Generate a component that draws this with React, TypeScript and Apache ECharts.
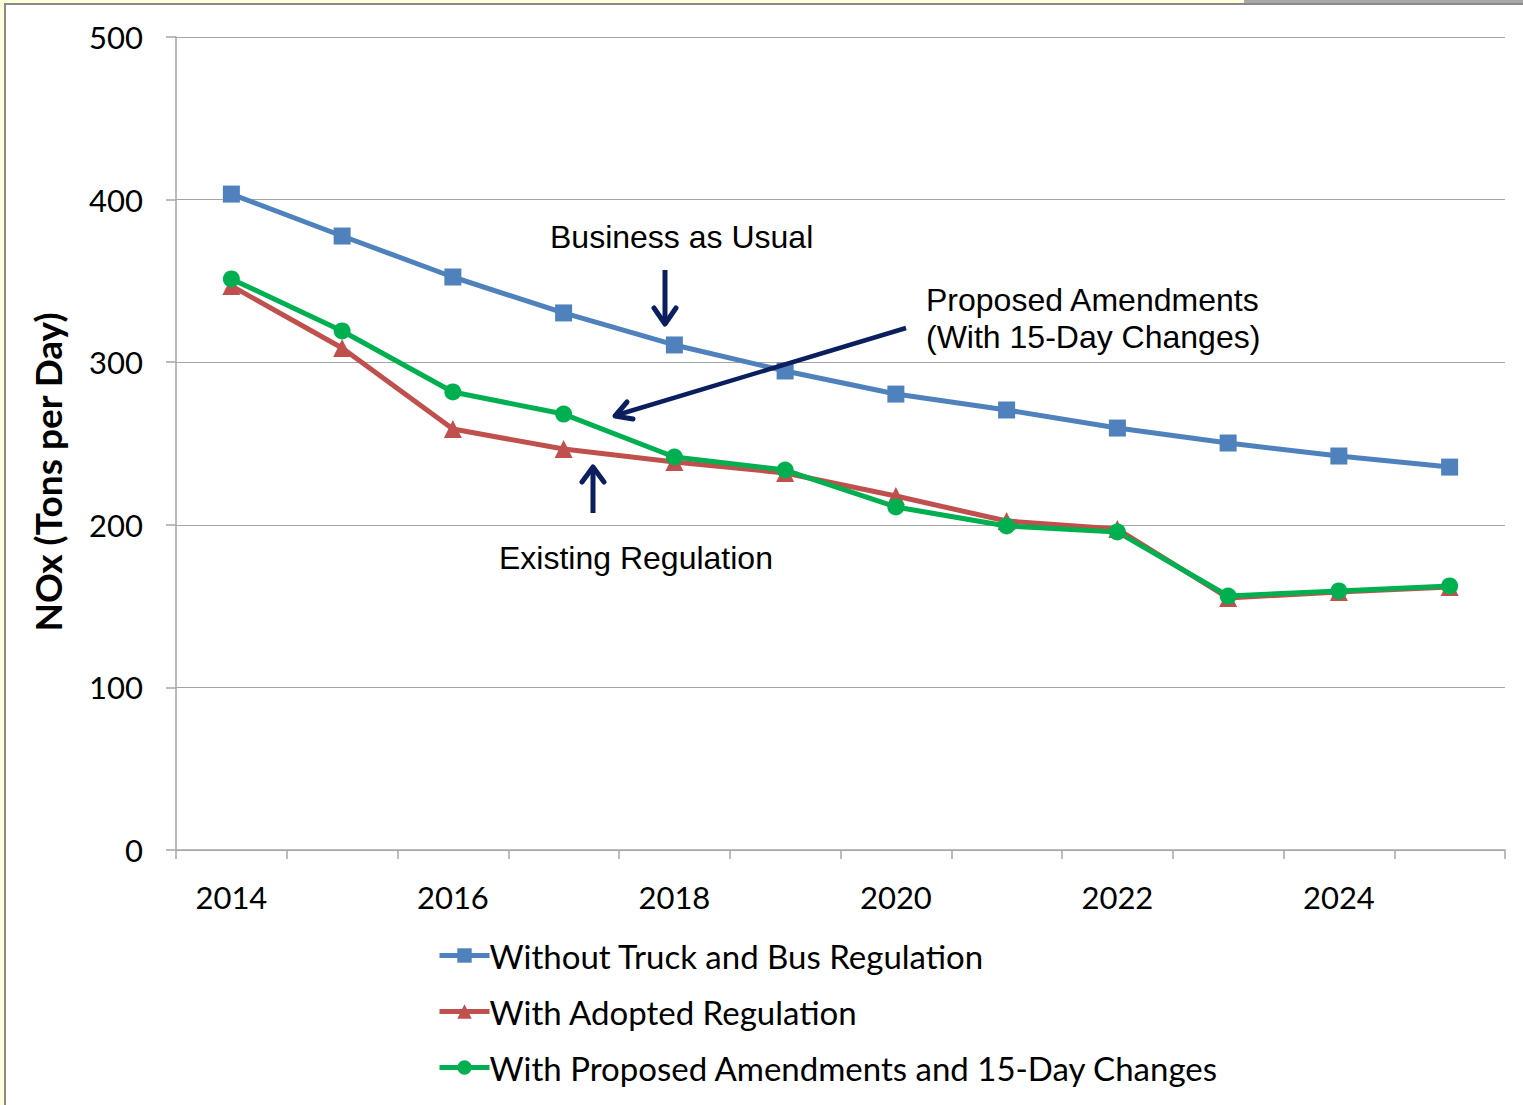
import React, { useEffect, useRef } from "react";
import * as echarts from "echarts";

const years = ["2014", "2015", "2016", "2017", "2018", "2019", "2020", "2021", "2022", "2023", "2024", "2025"];
const withoutRegulation = [403.4, 377.6, 352.4, 330.3, 310.6, 294.6, 280.4, 270.6, 259.5, 250.3, 242.3, 235.5];
const adoptedRegulation = [346.9, 308.7, 258.9, 246.6, 238.6, 231.9, 217.7, 202.3, 197.4, 155.0, 158.7, 161.7];
const proposedAmendments = [351.2, 319.2, 281.7, 268.1, 241.7, 233.7, 211.0, 199.3, 195.6, 156.2, 159.3, 162.4];
const seriesNames = [
  "Without Truck and Bus Regulation",
  "With Adopted Regulation",
  "With Proposed Amendments and 15-Day Changes",
];

const W = 1523;
const H = 1105;
const navy = "#0b1f5e";

export default function App() {
  const ref = useRef<HTMLDivElement>(null);
  useEffect(() => {
    if (!ref.current) return;
    const chart = echarts.init(ref.current, undefined, { renderer: "svg" });
    const annoFont = "Liberation Sans, Arial, sans-serif";
    const mkSeries = (name: string, data: number[], color: string, symbol: string, size: number) => ({
      name,
      type: "line",
      data,
      symbol,
      symbolSize: size,
      showSymbol: true,
      lineStyle: { color, width: 5 },
      itemStyle: { color },
      z: 3,
    });
    chart.setOption({
      animation: false,
      backgroundColor: "#ffffff",
      grid: { left: 176, right: 18, top: 37, bottom: 255, containLabel: false },
      xAxis: {
        type: "category",
        data: years,
        boundaryGap: true,
        axisLine: { show: true, lineStyle: { color: "#a6a6a6", width: 1.5 } },
        axisTick: { show: true, interval: 0, length: 9, lineStyle: { color: "#a6a6a6", width: 1.5 } },
        axisLabel: {
          interval: 1,
          margin: 31,
          fontSize: 31,
          color: "#000",
          fontFamily: "Lato, sans-serif",
        },
        splitLine: { show: false },
      },
      yAxis: {
        type: "value",
        min: 0,
        max: 500,
        interval: 100,
        axisLine: { show: true, lineStyle: { color: "#a6a6a6", width: 1.5 } },
        axisTick: { show: true, length: 10, lineStyle: { color: "#a6a6a6", width: 1.5 } },
        axisLabel: {
          margin: 33,
          fontSize: 31,
          color: "#000",
          fontFamily: "Lato, sans-serif",
        },
        splitLine: { show: true, lineStyle: { color: "#a6a6a6", width: 1.2 } },
      },
      legend: {
        orient: "vertical",
        left: 432,
        top: 934,
        itemWidth: 50,
        itemHeight: 18,
        itemGap: 23,
        lineStyle: { width: 5 },
        textStyle: { fontSize: 33, color: "#000", fontFamily: "Lato, sans-serif", padding: [0, 0, 0, -5] },
        data: seriesNames,
      },
      series: [
        mkSeries(seriesNames[0], withoutRegulation, "#4f81bd", "rect", 17),
        mkSeries(seriesNames[1], adoptedRegulation, "#c0504d", "triangle", 18),
        mkSeries(seriesNames[2], proposedAmendments, "#00b050", "circle", 17),
      ],
      graphic: [
        // frame
        { type: "rect", shape: { x: 0, y: 0, width: W, height: 4 }, style: { fill: "#ffffe0" }, silent: true },
        { type: "rect", shape: { x: 0, y: 0, width: 4, height: H }, style: { fill: "#ffffe0" }, silent: true },
        { type: "rect", shape: { x: 1244, y: 0, width: W - 1244, height: 3 }, style: { fill: "#a8a8a8" }, silent: true },
        { type: "rect", shape: { x: 4, y: 3, width: W - 4, height: 2 }, style: { fill: "#8a8a8a" }, silent: true },
        { type: "rect", shape: { x: 4, y: 3, width: 2, height: H - 3 }, style: { fill: "#8a8a8a" }, silent: true },
        // y axis title
        {
          type: "text",
          x: 47,
          y: 472,
          rotation: Math.PI / 2,
          style: {
            text: "NOx (Tons per Day)",
            font: "bold 37px Lato, sans-serif",
            fill: "#000",
            align: "center",
            verticalAlign: "middle",
          },
        },
        // annotations
        {
          type: "text",
          x: 550,
          y: 237,
          style: { text: "Business as Usual", font: `32px ${annoFont}`, fill: "#000", verticalAlign: "middle" },
        },
        {
          type: "text",
          x: 926,
          y: 300,
          style: { text: "Proposed Amendments", font: `32px ${annoFont}`, fill: "#000", verticalAlign: "middle" },
        },
        {
          type: "text",
          x: 926,
          y: 337,
          style: { text: "(With 15-Day Changes)", font: `32px ${annoFont}`, fill: "#000", verticalAlign: "middle" },
        },
        {
          type: "text",
          x: 499,
          y: 558,
          style: { text: "Existing Regulation", font: `32px ${annoFont}`, fill: "#000", verticalAlign: "middle" },
        },
        // arrows
        { type: "line", shape: { x1: 665, y1: 270, x2: 665, y2: 322 }, style: { stroke: navy, lineWidth: 5 }, z: 10 },
        {
          type: "polyline",
          shape: { points: [[654, 308], [665, 324], [676, 308]] },
          style: { stroke: navy, lineWidth: 5, fill: null, lineJoin: "round", lineCap: "round" },
          z: 10,
        },
        { type: "line", shape: { x1: 593, y1: 513, x2: 593, y2: 469 }, style: { stroke: navy, lineWidth: 5 }, z: 10 },
        {
          type: "polyline",
          shape: { points: [[582, 482], [593, 467], [604, 482]] },
          style: { stroke: navy, lineWidth: 5, fill: null, lineJoin: "round", lineCap: "round" },
          z: 10,
        },
        { type: "line", shape: { x1: 906, y1: 328, x2: 617, y2: 415 }, style: { stroke: navy, lineWidth: 4.5 }, z: 10 },
        {
          type: "polyline",
          shape: { points: [[627, 402], [615, 416], [633, 419]] },
          style: { stroke: navy, lineWidth: 5, fill: null, lineJoin: "round", lineCap: "round" },
          z: 10,
        },
      ],
    });
    return () => chart.dispose();
  }, []);
  return (
    <div
      ref={ref}
      style={{ position: "fixed", left: 0, top: 0, width: W, height: H, background: "#fff" }}
    />
  );
}
